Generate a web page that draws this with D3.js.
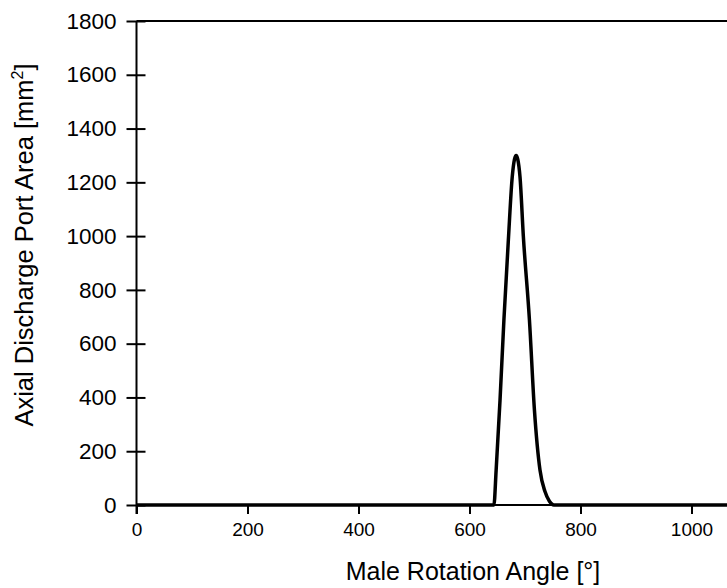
<!DOCTYPE html>
<html>
<head>
<meta charset="utf-8">
<script src="https://cdn.jsdelivr.net/npm/d3@7/dist/d3.min.js"></script>
<style>
  html, body { margin: 0; padding: 0; background: #fff; }
  svg { display: block; font-family: "Liberation Sans", Arial, sans-serif; }
</style>
</head>
<body>
<script>
// Data.
var angle = [0, 300, 600, 644, 648, 655, 662, 670, 677, 681, 684, 687, 691, 697, 708, 717, 727, 736, 744, 752, 800, 1000, 1100];
var area  = [0, 0, 0, 0, 130, 390, 688, 985, 1220, 1285, 1300, 1285, 1220, 1000, 688, 353, 130, 50, 14, 0, 0, 0, 0];
var xTicks = [0, 200, 400, 600, 800, 1000];
var yTicks = [0, 200, 400, 600, 800, 1000, 1200, 1400, 1600, 1800];

// Layout.
var width = 727, height = 588;
var plotLeft = 136.5, plotTop = 21, plotBottom = 505;

var svg = d3.select("body").append("svg")
        .attr("width", width)
        .attr("height", height);

var x = d3.scaleLinear().domain([0, 1000]).range([plotLeft, plotLeft + 555]);
var y = d3.scaleLinear().domain([0, 1800]).range([plotBottom, plotTop]);

// Frame top line.
svg.append("line")
        .attr("x1", plotLeft).attr("x2", width + 5)
        .attr("y1", y(1800)).attr("y2", y(1800))
        .attr("stroke", "#000").attr("stroke-width", 2);

// X axis.
var xAxis = svg.append("g")
        .attr("transform", "translate(0," + plotBottom + ")")
        .call(d3.axisBottom(x).tickValues(xTicks).tickFormat(d3.format("d"))
              .tickSize(9).tickPadding(9).tickSizeOuter(0));
xAxis.select(".domain").remove();
xAxis.append("line")
        .attr("x1", plotLeft).attr("x2", width + 5)
        .attr("stroke", "#000").attr("stroke-width", 2);
xAxis.selectAll(".tick line").attr("stroke-width", 2);
xAxis.selectAll(".tick text")
        .attr("font-size", 19).attr("fill", "#000")
        .attr("font-family", "Liberation Sans, Arial, sans-serif");

// Y axis with crossing ticks.
var yAxis = svg.append("g")
        .attr("transform", "translate(" + plotLeft + ",0)")
        .call(d3.axisLeft(y).tickValues(yTicks).tickFormat(d3.format("d"))
              .tickSize(10).tickPadding(10).tickSizeOuter(0));
yAxis.select(".domain").remove();
yAxis.append("line")
        .attr("y1", plotTop).attr("y2", plotBottom + 9)
        .attr("stroke", "#000").attr("stroke-width", 2);
yAxis.selectAll(".tick line").attr("x2", 9).attr("x1", -10).attr("stroke-width", 2);
yAxis.selectAll(".tick text")
        .attr("font-size", 22.5).attr("fill", "#000")
        .attr("font-family", "Liberation Sans, Arial, sans-serif");

// Curve.
var line = d3.line()
        .x(function(d, i) { return x(angle[i]); })
        .y(function(d) { return y(d); })
        .curve(d3.curveMonotoneX);
svg.append("path")
        .datum(area)
        .attr("d", line)
        .attr("fill", "none")
        .attr("stroke", "#000")
        .attr("stroke-width", 3.5)
        .attr("stroke-linejoin", "round");

// Axis titles.
svg.append("text")
        .attr("x", 473).attr("y", 580)
        .attr("text-anchor", "middle")
        .attr("font-size", 25)
        .text("Male Rotation Angle [°]");

var yt = svg.append("text")
        .attr("transform", "translate(33,245) rotate(-90)")
        .attr("text-anchor", "middle")
        .attr("font-size", 25.5);
yt.append("tspan").text("Axial Discharge Port Area [mm");
yt.append("tspan").attr("font-size", 16).attr("dy", -10).text("2");
yt.append("tspan").attr("dy", 10).text("]");
</script>
</body>
</html>
